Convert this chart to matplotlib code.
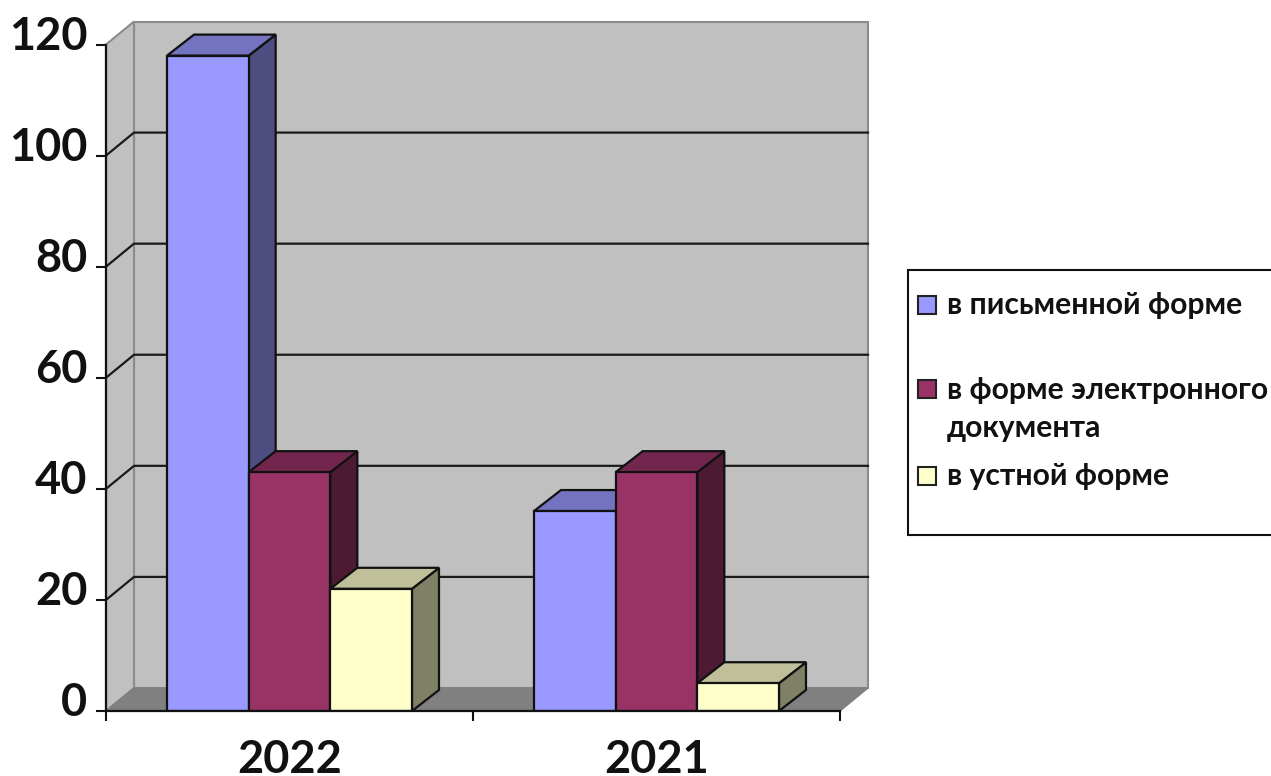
import matplotlib
matplotlib.use('Agg')
import matplotlib.pyplot as plt
import matplotlib.transforms as mtransforms
from matplotlib.patches import Rectangle
from matplotlib.colors import to_rgb

# ---- data ----
years = ['2022', '2021']
written = [118, 36]
electronic = [43, 43]
oral = [22, 5]
series_names = ['в письменной форме', 'в форме электронного\nдокумента', 'в устной форме']
y_ticks = [0, 20, 40, 60, 80, 100, 120]

# ---- style ----
W, H = 1271, 776
colors = ['#9999FF', '#993366', '#FFFFCC']
WALL = '#C0C0C0'
FLOOR = '#808080'
FONT = ['Lato', 'Open Sans', 'DejaVu Sans']
BAR_W = 0.2225
X_LEFT, X_RIGHT, Y_TOP, Y_ZERO = 106, 840, 44.5, 711

plt.rcParams['font.family'] = FONT

fig = plt.figure(figsize=(W / 100, H / 100), dpi=100)
ax = fig.add_axes([X_LEFT / W, 1 - Y_ZERO / H, (X_RIGHT - X_LEFT) / W, (Y_ZERO - Y_TOP) / H])
ax.set_xlim(-0.5, 1.5)
ax.set_ylim(0, 120)
ax.patch.set_visible(False)

# depth of the fake 3d box, px converted to data units
DX = 28 / ((X_RIGHT - X_LEFT) / 2)
DY = 23 / ((Y_ZERO - Y_TOP) / 120)
BAR_DX = 27 / ((X_RIGHT - X_LEFT) / 2)
BAR_DY = 21 / ((Y_ZERO - Y_TOP) / 120)


def shade(c, f):
    r, g, b = to_rgb(c)
    return (r * f, g * f, b * f)


x0, x1 = ax.get_xlim()
top = y_ticks[-1]

# walls and floor
ax.fill([x0 + DX, x1 + DX, x1 + DX, x0 + DX], [DY, DY, top + DY, top + DY],
        fc=WALL, ec='#8C8C8C', lw=1.5, clip_on=False, zorder=1)
ax.fill([x0, x0 + DX, x0 + DX, x0], [0, DY, top + DY, top],
        fc=WALL, ec='#8C8C8C', lw=1.5, clip_on=False, zorder=1)
ax.fill([x0, x1, x1 + DX, x0 + DX], [0, 0, DY, DY],
        fc=FLOOR, ec=FLOOR, lw=1, clip_on=False, zorder=1.5)

# gridlines on the back wall, with the slanted bit on the left wall
for v in y_ticks[1:-1]:
    ax.plot([x0, x0 + DX, x1 + DX], [v, v + DY, v + DY], color='#1a1a1a', lw=1.6,
            clip_on=False, zorder=2)

# bars
all_series = [written, electronic, oral]
z = 3
for i in range(len(years)):
    for j, vals in enumerate(all_series):
        left = i + (j - 1.5) * BAR_W
        right = left + BAR_W
        v = vals[i]
        # side face
        ax.fill([right, right + BAR_DX, right + BAR_DX, right],
                [0, BAR_DY, v + BAR_DY, v],
                fc=shade(colors[j], 0.5), ec='#111111', lw=1.6, clip_on=False, zorder=z)
        # top face
        ax.fill([left, right, right + BAR_DX, left + BAR_DX],
                [v, v, v + BAR_DY, v + BAR_DY],
                fc=shade(colors[j], 0.75), ec='#111111', lw=1.6, clip_on=False, zorder=z)
        ax.bar(left, v, width=BAR_W, align='edge', color=colors[j], edgecolor='#111111',
               linewidth=1.6, zorder=z + 0.5)
        z += 1

# axes
for s in ['top', 'right']:
    ax.spines[s].set_visible(False)
for s in ['left', 'bottom']:
    ax.spines[s].set_linewidth(1.6)
    ax.spines[s].set_color('#111111')
    ax.spines[s].set_zorder(30)

ax.set_yticks(y_ticks)
ax.set_yticklabels([str(t) for t in y_ticks], fontsize=32.5, fontweight='bold', color='#111111')
ax.tick_params(axis='y', length=7, width=1.5, pad=6.5, color='#111111')
# labels sit above their ticks in the original
up = mtransforms.ScaledTranslation(0, 12 / 100, fig.dpi_scale_trans)
for lab in ax.get_yticklabels():
    lab.set_transform(lab.get_transform() + up)

ax.set_xticks([-0.5, 0.5, 1.5])
ax.set_xticklabels([])
ax.tick_params(axis='x', length=7, width=1.5, color='#111111')
ax.set_xticks(range(len(years)), labels=years, minor=True)
ax.tick_params(axis='x', which='minor', length=0, pad=20, labelsize=32.5, labelcolor='#111111')
for lab in ax.get_xticklabels(minor=True):
    lab.set_fontweight('bold')

# legend, drawn by hand because of the uneven row spacing
fig.add_artist(Rectangle((907.5 / W, 1 - 535 / H), 400 / W, 265 / H, fc='white', ec='#111111',
                         lw=1.5, transform=fig.transFigure, clip_on=True))
legend_rows = [305, 389, 476]
for name, c, ry in zip(series_names, colors, legend_rows):
    fig.add_artist(Rectangle((918 / W, 1 - (ry + 9) / H), 18 / W, 18 / H, fc=c, ec='#222222', lw=1.5,
                             transform=fig.transFigure))
    fig.text(947 / W, 1 - ry / H if '\n' not in name else 1 - (ry + 20) / H, name,
             fontsize=21.7, fontweight='bold', color='#111111', va='center', ha='left', linespacing=1.45)

fig.savefig('out.png', dpi=100)
